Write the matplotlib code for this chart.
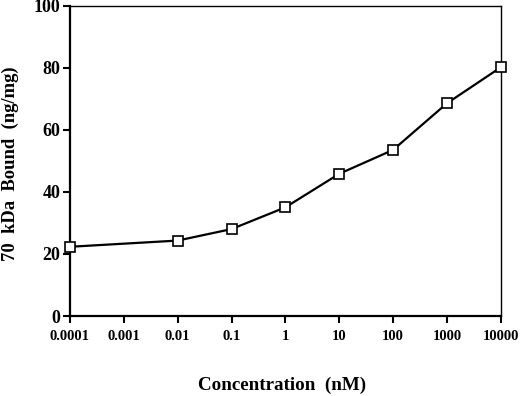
import matplotlib
matplotlib.use("Agg")
import matplotlib.pyplot as plt

concentration = [0.0001, 0.01, 0.1, 1, 10, 100, 1000, 10000]
bound = [22.3, 24.3, 28.0, 35.0, 45.8, 53.5, 68.5, 80.1]
xtick_values = [0.0001, 0.001, 0.01, 0.1, 1, 10, 100, 1000, 10000]
xtick_labels = ["0.0001", "0.001", "0.01", "0.1", "1", "10", "100", "1000", "10000"]
ytick_values = [0, 20, 40, 60, 80, 100]

plt.rcParams['font.family'] = ['Liberation Serif', 'DejaVu Serif']
plt.rcParams['font.weight'] = 'bold'

fig = plt.figure(figsize=(5.2, 3.96), dpi=100)
ax = fig.add_axes([0.1346, 0.202, 0.963 - 0.1346, 0.986 - 0.202])

ax.plot(concentration, bound, color='black', lw=1.6, marker='s', markersize=7.5,
        markerfacecolor='white', markeredgecolor='black', markeredgewidth=1.2,
        clip_on=False, zorder=5)

ax.set_xscale('log')
ax.set_xlim(0.0001, 10000)
ax.set_ylim(0, 100)
ax.set_xticks(xtick_values)
ax.set_xticklabels(xtick_labels)
ax.minorticks_off()
ax.set_yticks(ytick_values)
ax.tick_params(axis='x', direction='out', length=5, width=1.5, labelsize=10.5, pad=5)
ax.tick_params(axis='y', direction='out', length=5, width=1.5, labelsize=13, pad=2)
for lab in ax.get_xticklabels() + ax.get_yticklabels():
    lab.set_fontweight('bold')

ax.spines['left'].set_linewidth(1.6)
ax.spines['bottom'].set_linewidth(1.6)
ax.spines['top'].set_linewidth(1.0)
ax.spines['right'].set_linewidth(1.0)

fig.text(0.019, 0.587, "70  kDa  Bound  (ng/mg)", rotation=90, ha='center', va='center',
         fontsize=13.4, fontweight='bold')
fig.text(0.543, 0.028, "Concentration  (nM)", ha='center', va='center',
         fontsize=13.7, fontweight='bold')

fig.savefig("out.png", dpi=100)
